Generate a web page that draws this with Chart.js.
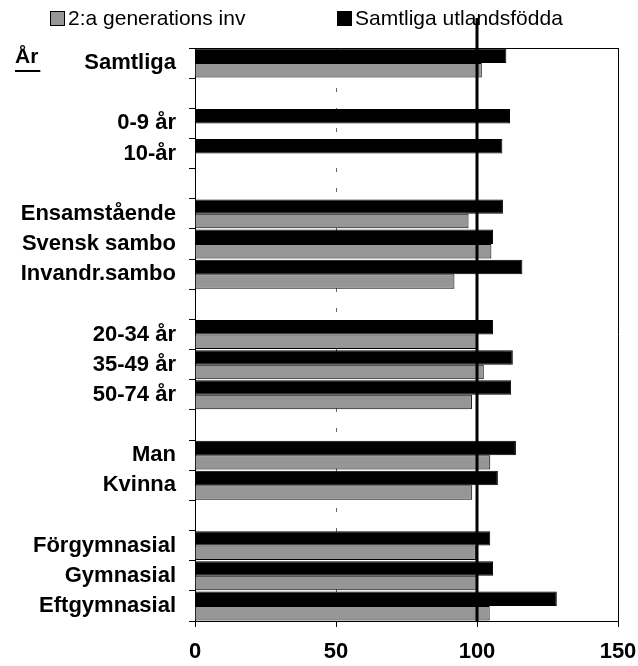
<!DOCTYPE html>
<html>
<head>
<meta charset="utf-8">
<script src="https://cdn.jsdelivr.net/npm/chart.js@4/dist/chart.umd.min.js"></script>
<style>
  body { margin: 0; background: #fff; }
  #wrap { width: 638px; height: 666px; position: relative; }
</style>
</head>
<body>
<div id="wrap"><canvas id="myChart-inv"></canvas></div>
<script>
// Kategorier (tomma = mellanrum mellan grupper)
const categories = ['Samtliga', '', '0-9 år', '10-år', '', 'Ensamstående', 'Svensk sambo', 'Invandr.sambo', '',
    '20-34 år', '35-49 år', '50-74 år', '', 'Man', 'Kvinna', '', 'Förgymnasial', 'Gymnasial', 'Eftgymnasial'];
const utlandsfodda = [110.4, null, 111.7, 109.0, null, 109.2, 105.7, 116.1, null,
    105.7, 112.7, 112.1, null, 113.8, 107.4, null, 104.7, 105.7, 128.3];
const andraGen = [101.7, null, null, null, null, 97.0, 105.1, 92.0, null,
    100.1, 102.4, 98.2, null, 104.7, 98.3, null, 99.6, 100.0, 104.5];
const xTicks = [0, 50, 100, 150];
const refValue = 100;

const font = 'Liberation Sans, Arial, Helvetica, sans-serif';

// tjock linje vid 100, egen legend och "År"
const extras = {
    id: 'extras',
    afterDatasetsDraw(chart) {
        const c = chart.ctx;
        const x = chart.scales.x.getPixelForValue(refValue);
        c.save();
        c.strokeStyle = '#000';
        c.lineWidth = 3;
        c.beginPath();
        c.moveTo(x, 18);
        c.lineTo(x, chart.chartArea.bottom);
        c.stroke();
        c.restore();
    },
    afterDraw(chart) {
        const c = chart.ctx;
        const top = chart.chartArea.top;
        c.save();
        c.fillStyle = '#000';
        c.font = 'bold 21px ' + font;
        c.textBaseline = 'alphabetic';
        c.fillText('År', 15, top + 15);
        const w = c.measureText('År').width;
        c.fillRect(15, top + 22, w + 2, 2);

        // legend: 2:a generation först
        const items = [chart.data.datasets[1], chart.data.datasets[0]];
        const xs = [50, 337];
        c.font = '21px ' + font;
        c.textBaseline = 'middle';
        items.forEach((ds, i) => {
            c.fillStyle = ds.backgroundColor;
            c.fillRect(xs[i], 11, 15, 15);
            c.strokeStyle = '#000';
            c.lineWidth = 1;
            c.strokeRect(xs[i] + 0.5, 11.5, 14, 14);
            c.fillStyle = '#000';
            c.fillText(ds.label, xs[i] + 18, 19);
        });
        c.restore();
    }
};

const ctx1 = document.getElementById('myChart-inv').getContext('2d');
const myChart1 = new Chart(ctx1, {
    type: 'bar',
    data: {
        labels: categories,
        datasets: [{
            label: 'Samtliga utlandsfödda',
            data: utlandsfodda,
            backgroundColor: '#000000',
            borderColor: '#000000',
            borderWidth: 1
        }, {
            label: '2:a generations inv',
            data: andraGen,
            backgroundColor: '#969696',
            borderColor: '#000000',
            borderWidth: 1
        }]
    },
    options: {
        indexAxis: 'y',
        responsive: true,
        maintainAspectRatio: false,
        animation: false,
        categoryPercentage: 0.96,
        barPercentage: 1,
        layout: { padding: { top: 48, right: 20, bottom: 0, left: 0 } },
        plugins: {
            legend: { display: false },
            tooltip: { enabled: false }
        },
        scales: {
            x: {
                min: 0,
                max: 150,
                afterBuildTicks: s => { s.ticks = xTicks.map(v => ({ value: v })); },
                afterFit: s => { s.paddingLeft = 0; s.paddingRight = 0; s.height = 45; },
                ticks: {
                    color: '#000',
                    padding: 12,
                    font: { family: font, size: 22, weight: 'bold' }
                },
                grid: {
                    color: c => c.tick && c.tick.value === 150 ? '#000' : (c.tick && c.tick.value === 50 ? '#666' : 'rgba(0,0,0,0)'),
                    tickColor: '#000',
                    tickLength: 6
                },
                border: {
                    color: '#000',
                    dash: c => c.tick && c.tick.value === 50 ? [4, 16] : []
                }
            },
            y: {
                afterFit: s => { s.width = 195; s.paddingTop = 0; s.paddingBottom = 0; },
                ticks: {
                    color: '#000',
                    padding: 13,
                    font: { family: font, size: 22, weight: 'bold' }
                },
                grid: {
                    color: c => c.index === 0 ? '#000' : 'rgba(0,0,0,0)',
                    tickColor: '#000',
                    tickLength: 6
                },
                border: { color: '#000' }
            }
        }
    },
    plugins: [extras]
});
</script>
</body>
</html>
